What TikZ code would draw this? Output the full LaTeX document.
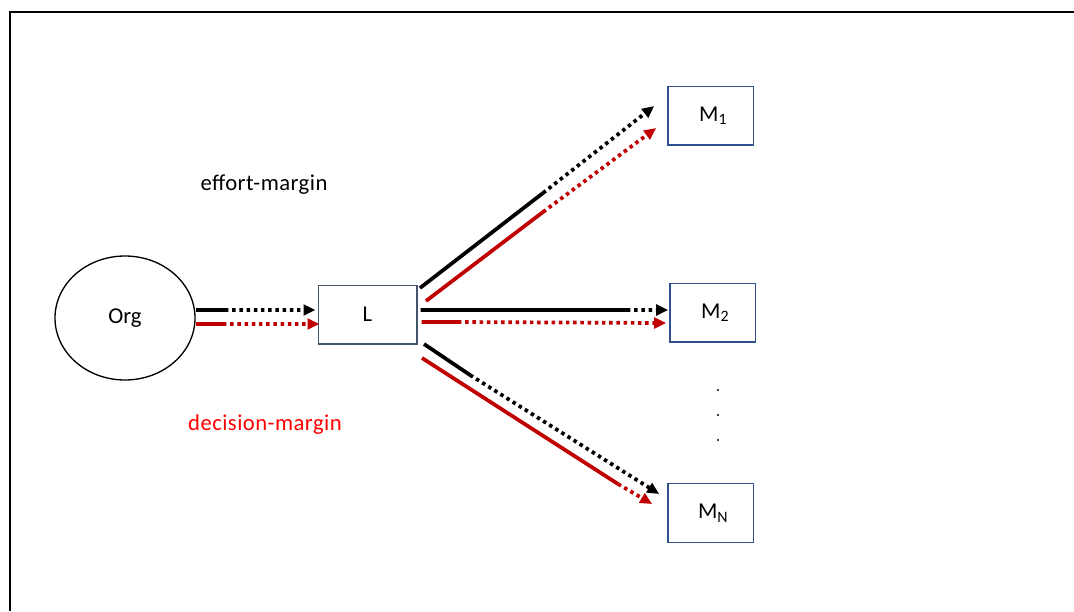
\documentclass[tikz,border=0pt]{standalone}
\usepackage{fontspec}
\setmainfont{Carlito}
\usetikzlibrary{arrows.meta,shapes.geometric}
\definecolor{decred}{HTML}{C00000}
\definecolor{slate}{HTML}{44546A}
\definecolor{boxblue}{HTML}{2F528F}
\begin{document}
\begin{tikzpicture}[
  x=0.75pt,y=-0.75pt,
  org/.style={draw=black,line width=1pt,ellipse,minimum width=105pt,minimum height=93pt,inner sep=0pt,font=\fontsize{17}{20}\selectfont},
  lbox/.style={draw=slate,line width=1pt,minimum width=74pt,minimum height=44pt,inner sep=0pt,font=\fontsize{17}{20}\selectfont},
  mbox/.style={draw=boxblue,line width=1pt,minimum width=64pt,minimum height=44pt,inner sep=0pt,font=\fontsize{17}{20}\selectfont},
  effsolid/.style={draw=black,line width=2.8pt},
  effdot/.style={draw=black,line width=2.8pt,dash pattern=on 2.6pt off 2.8pt,-{Triangle[length=9pt,width=8pt]}},
  decsolid/.style={draw=decred,line width=2.8pt},
  decdot/.style={draw=decred,line width=2.8pt,dash pattern=on 2.6pt off 2.8pt,-{Triangle[length=9pt,width=8pt]}},
  marg/.style={font=\fontsize{17}{20}\selectfont\addfontfeatures{LetterSpace=2}},
]
\useasboundingbox (0,0) rectangle (1074,611);
\draw[line width=1.5pt] (10,611)--(10,12)--(1074,12);

\node[org] (org) at (125,318) {Org};
\node[lbox] (L) at (367.5,314.5) {L};
\node[mbox] (M1) at (710.5,115.5) {\hspace*{4pt}M\textsubscript{1}};
\node[mbox] (M2) at (712.5,312.5) {\hspace*{4pt}M\textsubscript{2}};
\node[mbox] (MN) at (710.5,513) {\hspace*{4pt}M\textsubscript{N}};
\foreach \y in {390,415,440}{\fill (718,\y) circle (0.9pt);}

\node[marg] (eff) at (264,185) {effort-margin};
\node[marg,text=red] (dec) at (265,425) {decision-margin};

% Org to L
\coordinate (oa) at (225,310);
\coordinate (ob) at (223,324);
\draw[effsolid] ([yshift=6pt]org.east) -- (oa);
\draw[effdot] (oa) -- ([xshift=-1.5pt,yshift=3.4pt]L.west);
\draw[decsolid] ([yshift=-4.5pt]org.east) -- (ob);
\draw[decdot] (ob) -- ([xshift=1.5pt,yshift=-7.1pt]L.west);

% L to M1
\coordinate (s1a) at (420,288);
\coordinate (b1a) at (543,193);
\coordinate (s1b) at (426,301);
\coordinate (b1b) at (543,212);
\draw[effsolid] (s1a) -- (b1a);
\draw[effdot] (b1a) -- ([xshift=-9.75pt,yshift=7.1pt]M1.west);
\draw[decsolid] (s1b) -- (b1b);
\draw[decdot] (b1b) -- ([xshift=-8.25pt,yshift=-9.4pt]M1.west);

% L to M2
\coordinate (b2a) at (627,310);
\coordinate (b2b) at (458,322);
\draw[effsolid] ([xshift=2.25pt,yshift=3.4pt]L.east) -- (b2a);
\draw[effdot] (b2a) -- ([xshift=-0.75pt,yshift=1.9pt]M2.west);
\draw[decsolid] ([xshift=3pt,yshift=-5.6pt]L.east) -- (b2b);
\draw[decdot] (b2b) -- ([xshift=-2.25pt,yshift=-7.9pt]M2.west);

% L to MN
\coordinate (sna) at (424,344);
\coordinate (bna) at (470,375);
\coordinate (snb) at (422,358);
\coordinate (bnb) at (618,484);
\draw[effsolid] (sna) -- (bna);
\draw[effdot] (bna) -- ([xshift=-6pt,yshift=14.25pt]MN.west);
\draw[decsolid] (snb) -- (bnb);
\draw[decdot] (bnb) -- ([xshift=-11.25pt,yshift=6.75pt]MN.west);
\end{tikzpicture}
\end{document}
